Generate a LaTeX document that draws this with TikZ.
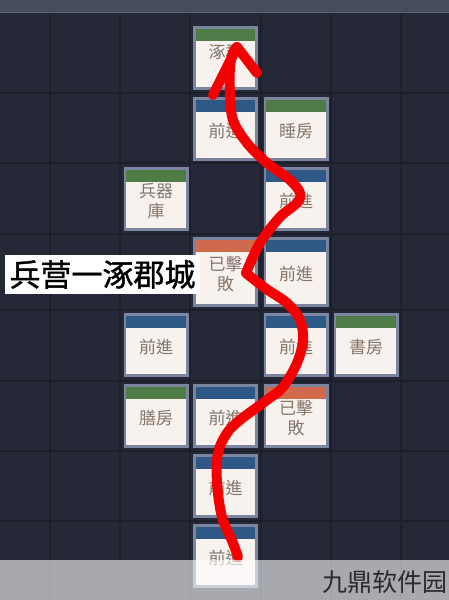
\documentclass[tikz,border=0pt]{standalone}
\usepackage{fontspec}
\newfontfamily\cjk{Noto Sans CJK TC}
\newfontfamily\cjksc{Noto Sans CJK SC}
\newfontfamily\cjkbold[FakeBold=1.2]{Noto Sans CJK SC}
\usetikzlibrary{calc}
\definecolor{bg}{HTML}{252937}
\definecolor{gridc}{HTML}{1D202B}
\definecolor{banner}{HTML}{464C5B}
\definecolor{bannerline}{HTML}{5E6475}
\definecolor{frame}{HTML}{7C85A0}
\definecolor{bodyc}{HTML}{F8F2EF}
\definecolor{hgreen}{HTML}{4F7B47}
\definecolor{hblue}{HTML}{2E5886}
\definecolor{horange}{HTML}{D06A4C}
\definecolor{txt}{HTML}{857568}
\definecolor{redline}{HTML}{F40000}
\definecolor{wmtext}{HTML}{2B2B2B}
\tikzset{
  cardframe/.style={rectangle, fill=frame, inner sep=0pt, minimum width=65pt},
  cardtext/.style={font=\cjk\fontsize{17}{20}\selectfont, text=txt, align=center, inner sep=0pt},
  gridline/.style={gridc, line width=1.5pt},
  redpath/.style={redline, line width=10pt, line cap=round, line join=round},
}
% #1 name, #2 centre x, #3 top y, #4 height, #5 header colour, #6 text
\newcommand\card[6]{%
  \node[cardframe, minimum height=#4pt] (#1) at (#2, #3+#4/2) {};
  \fill[#5] ([xshift=3pt,yshift=-3pt]#1.north west) rectangle ([xshift=-3pt,yshift=-15pt]#1.north east);
  \fill[bodyc] ([xshift=3pt,yshift=-15pt]#1.north west) rectangle ([xshift=-3pt,yshift=3pt]#1.south east);
  \node[cardtext] (#1t) at ($(#1.center)+(0,2)$) {#6};
}
\begin{document}
\begin{tikzpicture}[x=1pt,y=-1pt]
\useasboundingbox (0,0) rectangle (449,600);
\fill[bg] (0,0) rectangle (449,600);
\fill[banner] (0,0) rectangle (449,12);
\draw[bannerline, line width=1pt] (0,12.5) -- (449,12.5);
% grid
\foreach \gx in {50,120,190,261,331,401}
  \draw[gridline] (\gx,14) -- (\gx,600);
\foreach \gy in {93,163,234,310,381,451,521}
  \draw[gridline] (0,\gy) -- (449,\gy);
% cards
\card{b1}{225.5}{26}{64}{hgreen}{}
\node[cardtext] (b1n) at (225.5,52) {涿郡};
\card{b2}{225.5}{97}{64}{hblue}{前進}
\card{c2}{296}{97}{64}{hgreen}{睡房}
\card{a3}{156}{167}{64}{hgreen}{兵器\\庫}
\card{c3}{296}{167}{64}{hblue}{前進}
\card{b4}{225.5}{237}{70}{horange}{已擊\\敗}
\card{c4}{296}{237}{70}{hblue}{前進}
\card{a5}{156}{313}{64}{hblue}{前進}
\card{c5}{296}{313}{64}{hblue}{前進}
\card{d5}{366}{313}{64}{hgreen}{書房}
\card{a6}{156}{384}{64}{hgreen}{膳房}
\card{b6}{225.5}{384}{64}{hblue}{前進}
\card{c6}{296}{384}{64}{horange}{已擊\\敗}
\card{b7}{225.5}{454}{64}{hblue}{前進}
\card{b8}{225.5}{524}{64}{hblue}{前進}
% label
\node[fill=white, inner sep=0pt, minimum width=195pt, minimum height=39pt,
      font=\cjkbold\fontsize{31}{31}\selectfont, text=black] (lbl) at (102.5,274.5) {兵营一涿郡城};
% red arrow
\coordinate (s) at (238,557);
\coordinate (k) at (246,273);
\coordinate (tip) at (237,47);
\draw[redpath] plot[smooth, tension=0.55] coordinates {(s) (233,543) (222,517) (217,483) (218,453) (227,433) (240,420) (267,400) (283,387) (297,363) (303,340) (300,320) (287,303) (265,288) (k)};
\draw[redpath] plot[smooth, tension=0.55] coordinates {(k) (260,243) (280,217) (297,203) (300,193) (290,180) (267,163) (247,143) (233,120) (230,93) (230,67) (233,53) (tip)};
\coordinate (lw) at (213,95);
\coordinate (rw) at (257,73);
\draw[redpath] (lw) -- (tip) -- (rw);
% watermark band
\fill[white, opacity=0.6] (0,560) rectangle (449,600);
\node[font=\cjksc\fontsize{25}{25}\selectfont, text=wmtext, anchor=east, inner sep=0pt] (wm) at (448,582) {九鼎软件园};
\end{tikzpicture}
\end{document}
